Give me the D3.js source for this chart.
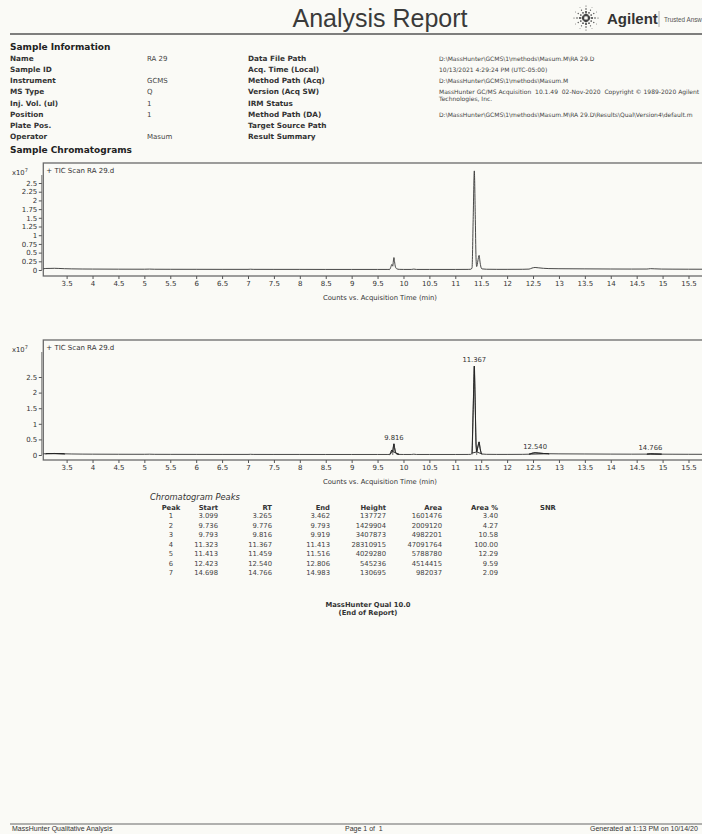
<!DOCTYPE html>
<html>
<head>
<meta charset="utf-8">
<script src="https://cdn.jsdelivr.net/npm/d3@7"></script>
<style>
  html, body { margin: 0; padding: 0; background: #fafaf6; overflow: hidden; }
  svg { display: block; }
  text { font-family: "DejaVu Sans", Verdana, sans-serif; fill: #333; white-space: pre; }
</style>
</head>
<body>
<svg id="page" width="702" height="834"></svg>
<script>
// ---------- Sample information ----------
const infoLabelsLeft = ["Name", "Sample ID", "Instrument", "MS Type", "Inj. Vol. (ul)", "Position", "Plate Pos.", "Operator"];
const infoValuesLeft = ["RA 29", "", "GCMS", "Q", "1", "1", "", "Masum"];
const infoLabelsRight = ["Data File Path", "Acq. Time (Local)", "Method Path (Acq)", "Version (Acq SW)", "IRM Status", "Method Path (DA)", "Target Source Path", "Result Summary"];
const infoValuesRight = [
  ["D:\\MassHunter\\GCMS\\1\\methods\\Masum.M\\RA 29.D"],
  ["10/13/2021 4:29:24 PM (UTC-05:00)"],
  ["D:\\MassHunter\\GCMS\\1\\methods\\Masum.M"],
  ["MassHunter GC/MS Acquisition  10.1.49  02-Nov-2020  Copyright \u00A9 1989-2020 Agilent", "Technologies, Inc."],
  [""],
  ["D:\\MassHunter\\GCMS\\1\\methods\\Masum.M\\RA 29.D\\Results\\Qual\\Version4\\default.m"],
  [""],
  [""]
];

// ---------- TIC trace: acquisition time (min) and counts ----------
const traceTime = [3.05, 3.099, 3.18, 3.265, 3.35, 3.462, 3.60, 3.80, 4.00, 4.50, 5.00, 5.10, 5.20, 5.50,
  6.00, 6.50, 7.00, 7.05, 7.10, 7.50, 8.00, 8.50, 9.00, 9.50, 9.70, 9.736, 9.755, 9.776, 9.785, 9.793,
  9.805, 9.816, 9.828, 9.845, 9.87, 9.919, 10.00, 10.15, 10.20, 10.25, 10.50, 11.00, 11.25, 11.30,
  11.323, 11.345, 11.367, 11.385, 11.40, 11.413, 11.435, 11.459, 11.48, 11.50, 11.516, 11.60, 11.80,
  12.00, 12.30, 12.423, 12.48, 12.540, 12.60, 12.70, 12.806, 13.00, 13.50, 14.00, 14.40, 14.698,
  14.766, 14.85, 14.983, 15.20, 15.50, 16.05];
const traceCounts = [360000, 440000, 460000, 490000, 450000, 380000, 330000, 290000, 270000, 240000, 230000, 260000, 220000, 210000,
  200000, 190000, 190000, 230000, 190000, 180000, 180000, 170000, 170000, 170000, 170000, 180000, 800000, 1610000, 1300000, 1100000,
  2600000, 3580000, 2400000, 900000, 350000, 190000, 170000, 170000, 260000, 170000, 170000, 170000, 180000, 220000,
  600000, 14500000, 28480000, 16000000, 3500000, 1000000, 2600000, 4200000, 2000000, 600000, 320000, 220000, 190000,
  190000, 210000, 260000, 560000, 730000, 640000, 490000, 410000, 370000, 330000, 290000, 270000, 280000,
  390000, 340000, 270000, 250000, 230000, 220000];

// ---------- Integrated peaks ----------
const peakNo = [1, 2, 3, 4, 5, 6, 7];
const peakStart = [3.099, 9.736, 9.793, 11.323, 11.413, 12.423, 14.698];
const peakRT = [3.265, 9.776, 9.816, 11.367, 11.459, 12.540, 14.766];
const peakEnd = [3.462, 9.793, 9.919, 11.413, 11.516, 12.806, 14.983];
const peakHeight = [137727, 1429904, 3407873, 28310915, 4029280, 545236, 130695];
const peakArea = [1601476, 2009120, 4982201, 47091764, 5788780, 4514415, 982037];
const peakAreaPct = [3.40, 4.27, 10.58, 100.00, 12.29, 9.59, 2.09];
const labelledPeaks = [3, 4, 6, 7];   // peak numbers annotated on the integrated chromatogram

// ---------- Axis ticks ----------
const xTicks = [3.5, 4, 4.5, 5, 5.5, 6, 6.5, 7, 7.5, 8, 8.5, 9, 9.5, 10, 10.5, 11, 11.5, 12, 12.5, 13, 13.5, 14, 14.5, 15, 15.5];
const yTicksFine = [0, 0.25, 0.5, 0.75, 1, 1.25, 1.5, 1.75, 2, 2.25, 2.5];
const yTicksCoarse = [0, 0.5, 1, 1.5, 2, 2.5];

const svg = d3.select("#page");
const INK = "#333";
const NARROW = "'Liberation Sans Narrow', 'Liberation Sans', sans-serif";

// ---------- Page header ----------
svg.append("text").attr("x", 380).attr("y", 27).attr("text-anchor", "middle")
  .style("font-family", NARROW).style("font-size", "25px").style("fill", "#3a3a3a").text("Analysis Report");
svg.append("line").attr("x1", 10).attr("x2", 702).attr("y1", 34).attr("y2", 34)
  .attr("stroke", "#555").attr("stroke-width", 1.6);

// Agilent spark
const spark = svg.append("g").attr("transform", "translate(586,18)");
d3.range(12).forEach(i => {
  const a = i * Math.PI / 6;
  [3, 6, 9, 12].forEach((r, k) => {
    spark.append("circle").attr("cx", r * Math.cos(a)).attr("cy", r * Math.sin(a))
      .attr("r", [1.2, 0.95, 0.7, 0.5][k] * (i % 3 === 0 ? 1.15 : 0.9)).attr("fill", "#444");
  });
});
svg.append("text").attr("x", 607).attr("y", 24)
  .style("font-family", NARROW).style("font-weight", "bold").style("font-size", "15px").style("fill", "#333").text("Agilent");
svg.append("line").attr("x1", 659).attr("x2", 659).attr("y1", 11).attr("y2", 27)
  .attr("stroke", "#999").attr("stroke-width", 0.8);
svg.append("text").attr("x", 664).attr("y", 22)
  .style("font-family", NARROW).style("font-size", "6.3px").style("fill", "#555").text("Trusted Answ");

// ---------- Sample information block ----------
svg.append("text").attr("x", 10).attr("y", 50).style("font-weight", "bold")
  .style("font-size", "9px").style("fill", "#222").text("Sample Information");
const rowY = [60.5, 71.5, 82.5, 93.5, 105.5, 116.5, 127.5, 138.5];
const infoRows = svg.append("g");
infoRows.selectAll("text.ll").data(infoLabelsLeft).join("text").attr("class", "ll")
  .attr("x", 10).attr("y", (d, i) => rowY[i]).style("font-weight", "bold").style("font-size", "7.3px").text(d => d);
infoRows.selectAll("text.lv").data(infoValuesLeft).join("text").attr("class", "lv")
  .attr("x", 147).attr("y", (d, i) => rowY[i]).style("font-size", "7px").style("fill", "#444").text(d => d);
infoRows.selectAll("text.rl").data(infoLabelsRight).join("text").attr("class", "rl")
  .attr("x", 248).attr("y", (d, i) => rowY[i]).style("font-weight", "bold").style("font-size", "7.3px").text(d => d);
infoValuesRight.forEach((lines, i) => {
  lines.forEach((ln, j) => {
    infoRows.append("text").attr("x", 439).attr("y", rowY[i] + j * 7)
      .style("font-size", "6px").style("fill", "#444").text(ln);
  });
});

svg.append("text").attr("x", 10).attr("y", 152.5).style("font-weight", "bold")
  .style("font-size", "9px").style("fill", "#222").text("Sample Chromatograms");

// ---------- Chromatogram panels ----------
const x = d3.scaleLinear().domain([3.05, 16.05]).range([43.3, 717]);
const trace = traceTime.map((t, i) => ({ t, c: traceCounts[i] }));

function drawPanel(cfg) {
  const g = svg.append("g");
  const y = d3.scaleLinear().domain(cfg.yDomain).range([cfg.bottom, cfg.top]);
  const [x0, x1] = x.range();

  // frame
  g.append("rect").attr("x", x0).attr("y", cfg.top).attr("width", x1 - x0).attr("height", cfg.bottom - cfg.top)
    .attr("fill", "none").attr("stroke", "#6a6a6a").attr("stroke-width", 1.3);

  // y axis
  const yAxis = g.append("g").attr("transform", `translate(${x0 - 1.5},0)`)
    .call(d3.axisLeft(y).tickValues(cfg.yTicks.map(v => v * 1e7)).tickSize(3).tickPadding(1.5)
      .tickFormat(v => d3.format("~g")(v / 1e7)));
  yAxis.select(".domain").remove();
  yAxis.append("line").attr("x1", 0).attr("x2", 0).attr("y1", cfg.top + 12).attr("y2", y(0))
    .attr("stroke", "#555").attr("stroke-width", 0.8);
  yAxis.selectAll(".tick line").attr("stroke", "#555");
  yAxis.selectAll(".tick text").style("font-size", "7px").style("fill", "#333");

  // x axis
  const xAxis = g.append("g").attr("transform", `translate(0,${cfg.bottom})`)
    .call(d3.axisBottom(x).tickValues(xTicks).tickSize(3).tickPadding(2).tickFormat(d => String(d)));
  xAxis.select(".domain").remove();
  xAxis.selectAll(".tick line").attr("stroke", "#555");
  xAxis.selectAll(".tick text").style("font-size", "7px").style("fill", "#333");

  g.append("text").attr("x", 380).attr("y", cfg.bottom + 23.5).attr("text-anchor", "middle")
    .style("font-size", "6.8px").style("fill", "#333").text("Counts vs. Acquisition Time (min)");

  // scale factor and trace title
  const lab = g.append("text").attr("x", 12).attr("y", cfg.top + 12).style("font-size", "6.8px");
  lab.append("tspan").text("x10");
  lab.append("tspan").attr("dy", -3).style("font-size", "5px").text("7");
  g.append("text").attr("x", x0 + 3).attr("y", cfg.top + 9.5).style("font-size", "7px").text("+ TIC Scan RA 29.d");

  const line = d3.line().x(d => x(d.t)).y(d => y(d.c)).curve(d3.curveMonotoneX);
  g.append("path").datum(trace).attr("d", line).attr("fill", "none")
    .attr("stroke", INK).attr("stroke-width", 0.9);

  if (cfg.integrated) {
    peakNo.forEach((p, i) => {
      const seg = trace.filter(d => d.t >= peakStart[i] - 1e-9 && d.t <= peakEnd[i] + 1e-9);
      g.append("path").attr("d", d3.line().x(d => x(d.t)).y(d => y(d.c))(seg) + "Z")
        .attr("fill", "none").attr("stroke", "#222").attr("stroke-width", 0.9);
      g.append("line").attr("x1", x(peakStart[i])).attr("x2", x(peakStart[i]))
        .attr("y1", y(seg[0].c)).attr("y2", y(0)).attr("stroke", "#555").attr("stroke-width", 0.5);
      g.append("line").attr("x1", x(peakEnd[i])).attr("x2", x(peakEnd[i]))
        .attr("y1", y(seg[seg.length - 1].c)).attr("y2", y(0)).attr("stroke", "#555").attr("stroke-width", 0.5);
    });
    labelledPeaks.forEach(p => {
      const i = peakNo.indexOf(p);
      const top = trace.find(d => Math.abs(d.t - peakRT[i]) < 1e-9);
      g.append("text").attr("x", x(peakRT[i])).attr("y", y(top.c) - 4).attr("text-anchor", "middle")
        .style("font-size", "6.8px").text(peakRT[i].toFixed(3));
    });
  }
}

// panel 1: y(0)=270, y(2.5e7)=183; panel 2: y(0)=455, y(2.5e7)=377
drawPanel({ top: 163, bottom: 276, yDomain: [-1.72e6, 3.075e7], yTicks: yTicksFine, integrated: false });
drawPanel({ top: 340, bottom: 460, yDomain: [-1.6e6, 3.686e7], yTicks: yTicksCoarse, integrated: true });

// ---------- Peak table ----------
const tbl = svg.append("g");
tbl.append("text").attr("x", 150).attr("y", 500).style("font-style", "italic")
  .style("font-size", "8.3px").style("fill", "#333").text("Chromatogram Peaks");
const cols = [
  { head: "Peak", x: 171, anchor: "middle", vals: peakNo.map(String) },
  { head: "Start", x: 218, anchor: "end", vals: peakStart.map(v => v.toFixed(3)) },
  { head: "RT", x: 272, anchor: "end", vals: peakRT.map(v => v.toFixed(3)) },
  { head: "End", x: 330, anchor: "end", vals: peakEnd.map(v => v.toFixed(3)) },
  { head: "Height", x: 386, anchor: "end", vals: peakHeight.map(String) },
  { head: "Area", x: 442, anchor: "end", vals: peakArea.map(String) },
  { head: "Area %", x: 498, anchor: "end", vals: peakAreaPct.map(v => v.toFixed(2)) },
  { head: "SNR", x: 540, anchor: "start", vals: [] }
];
cols.forEach(c => {
  tbl.append("text").attr("x", c.x).attr("y", 509.5).attr("text-anchor", c.anchor)
    .style("font-weight", "bold").style("font-size", "6.8px").text(c.head);
  c.vals.forEach((v, i) => {
    tbl.append("text").attr("x", c.x).attr("y", 518 + i * 9.5).attr("text-anchor", c.anchor)
      .style("font-size", "6.8px").style("fill", "#444").text(v);
  });
});
tbl.append("text").attr("x", 368).attr("y", 606.5).attr("text-anchor", "middle")
  .style("font-weight", "bold").style("font-size", "6.8px").text("MassHunter Qual 10.0");
tbl.append("text").attr("x", 368).attr("y", 615).attr("text-anchor", "middle")
  .style("font-weight", "bold").style("font-size", "6.8px").text("(End of Report)");

// ---------- Footer ----------
svg.append("line").attr("x1", 10).attr("x2", 702).attr("y1", 824).attr("y2", 824)
  .attr("stroke", "#666").attr("stroke-width", 1.2);
const foot = [
  { x: 12, t: "MassHunter Qualitative Analysis" },
  { x: 345, t: "Page 1 of  1" },
  { x: 590, t: "Generated at 1:13 PM on 10/14/20" }
];
svg.selectAll("text.foot").data(foot).join("text").attr("class", "foot")
  .attr("x", d => d.x).attr("y", 831)
  .style("font-family", NARROW).style("font-size", "7px").style("fill", "#333").text(d => d.t);
</script>
</body>
</html>
